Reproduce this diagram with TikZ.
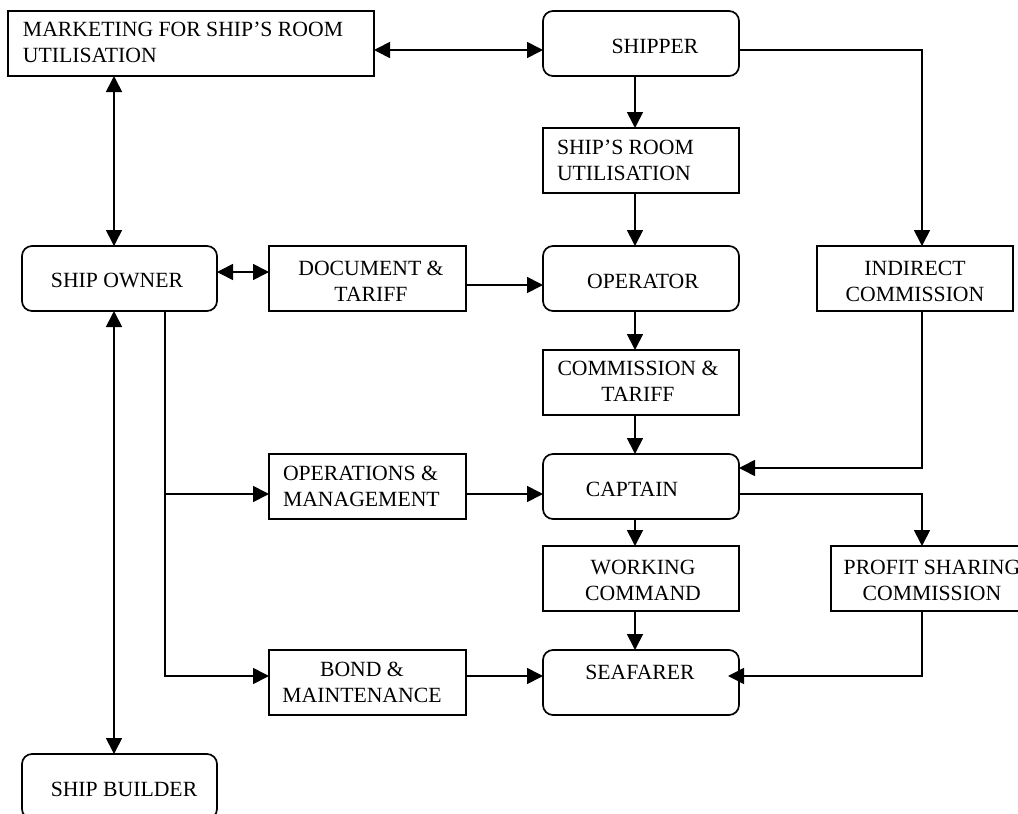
\documentclass[tikz,border=0pt]{standalone}
\usepackage{fontspec}
\setmainfont{Liberation Serif}
\usetikzlibrary{arrows.meta}
\tikzset{
  box/.style={draw=black,line width=1.7pt,minimum width=196pt,minimum height=65pt,inner sep=0pt,outer sep=0pt},
  rbox/.style={box,rounded corners=10pt},
  boxtext/.style={font=\fontsize{21.7pt}{26pt}\selectfont,inner sep=0pt,outer sep=0pt,align=center},
  lefttext/.style={boxtext,anchor=west,align=left},
  wire/.style={draw=black,line width=1.7pt},
  arrow/.style={wire,-{Triangle[length=16pt,width=16pt]}},
  biarrow/.style={wire,{Triangle[length=16pt,width=16pt]}-{Triangle[length=16pt,width=16pt]}}
}
\begin{document}
\begin{tikzpicture}[x=1pt,y=-1pt]
\path[use as bounding box] (0,0) rectangle (1018,814);
\clip (0,0) rectangle (1018,814);

% left column
\node[box,minimum width=366pt] (mkt) at (191,43.5) {};
\node[lefttext] (mkt-text) at (23,42) {MARKETING FOR SHIP'S ROOM\\UTILISATION};
\node[rbox,minimum width=195pt] (owner) at (119.5,278.5) {};
\node[boxtext] (owner-text) at (117,280) {SHIP OWNER};
\node[rbox,minimum width=195pt] (builder) at (119.5,786.5) {};
\node[boxtext] (builder-text) at (124,789) {SHIP BUILDER};

% second column
\node[box,minimum width=197pt] (doc) at (367.5,278.5) {};
\node[boxtext] (doc-text) at (371,281) {DOCUMENT \&\\TARIFF};
\node[box,minimum width=197pt] (ops) at (367.5,486.5) {};
\node[lefttext] (ops-text) at (283,486) {OPERATIONS \&\\MANAGEMENT};
\node[box,minimum width=197pt] (bond) at (367.5,682.5) {};
\node[boxtext] (bond-text) at (362,682) {BOND \&\\MAINTENANCE};

% main column
\node[rbox] (shipper) at (641,43.5) {};
\node[boxtext] (shipper-text) at (655,46) {SHIPPER};
\node[box] (room) at (641,160.5) {};
\node[lefttext] (room-text) at (557,160) {SHIP'S ROOM\\UTILISATION};
\node[rbox] (operator) at (641,278.5) {};
\node[boxtext] (operator-text) at (643,281) {OPERATOR};
\node[box] (commission) at (641,382.5) {};
\node[boxtext] (commission-text) at (638,381) {COMMISSION \&\\TARIFF};
\node[rbox] (captain) at (641,486.5) {};
\node[boxtext] (captain-text) at (632,489) {CAPTAIN};
\node[box] (working) at (641,578.5) {};
\node[boxtext] (working-text) at (643,580) {WORKING\\COMMAND};
\node[rbox] (seafarer) at (641,682.5) {};
\node[boxtext] (seafarer-text) at (640,672) {SEAFARER};

% right column
\node[box] (indirect) at (915,278.5) {};
\node[boxtext] (indirect-text) at (915,281) {INDIRECT\\COMMISSION};
\node[box,minimum width=202pt] (profit) at (932,578.5) {};
\node[boxtext] (profit-text) at (932,580) {PROFIT SHARING\\COMMISSION};

% connectors
\draw[biarrow] ([yshift=-6.5pt]mkt.east) -- ([yshift=-6.5pt]shipper.west);
\draw[biarrow] ([xshift=-5.5pt]owner.north) -- ([xshift=-5.5pt]owner.north |- mkt.south);
\draw[biarrow] ([xshift=-5.5pt]owner.south) -- ([xshift=-5.5pt]builder.north);
\draw[biarrow] ([yshift=6.5pt]owner.east) -- ([yshift=6.5pt]doc.west);
\draw[arrow] ([yshift=-6.5pt]doc.east) -- ([yshift=-6.5pt]operator.west);

\draw[arrow] ([xshift=-6pt]shipper.south) -- ([xshift=-6pt]room.north);
\draw[arrow] ([xshift=-6pt]room.south) -- ([xshift=-6pt]operator.north);
\draw[arrow] ([xshift=-6pt]operator.south) -- ([xshift=-6pt]commission.north);
\draw[arrow] ([xshift=-6pt]commission.south) -- ([xshift=-6pt]captain.north);
\draw[arrow] ([xshift=-6pt]captain.south) -- ([xshift=-6pt]working.north);
\draw[arrow] ([xshift=-6pt]working.south) -- ([xshift=-6pt]seafarer.north);

\draw[arrow] ([yshift=-6.5pt]shipper.east) -| ([xshift=7pt]indirect.north);
\draw[arrow] ([xshift=7pt]indirect.south) |- ([yshift=18.5pt]captain.east);
\draw[arrow] ([yshift=-7.5pt]captain.east) -| ([xshift=-10pt]profit.north);
\draw[arrow] ([xshift=-10pt]profit.south) |- ([xshift=-11pt,yshift=6.5pt]seafarer.east);

\coordinate (trunk) at ([xshift=45.5pt]owner.south);
\draw[arrow] (trunk) |- ([yshift=6.5pt]bond.west);
\draw[arrow] ([yshift=-7.5pt]ops.west -| trunk) -- ([yshift=-7.5pt]ops.west);
\draw[arrow] ([yshift=-7.5pt]ops.east) -- ([yshift=-7.5pt]captain.west);
\draw[arrow] ([yshift=6.5pt]bond.east) -- ([yshift=6.5pt]seafarer.west);
\end{tikzpicture}
\end{document}
